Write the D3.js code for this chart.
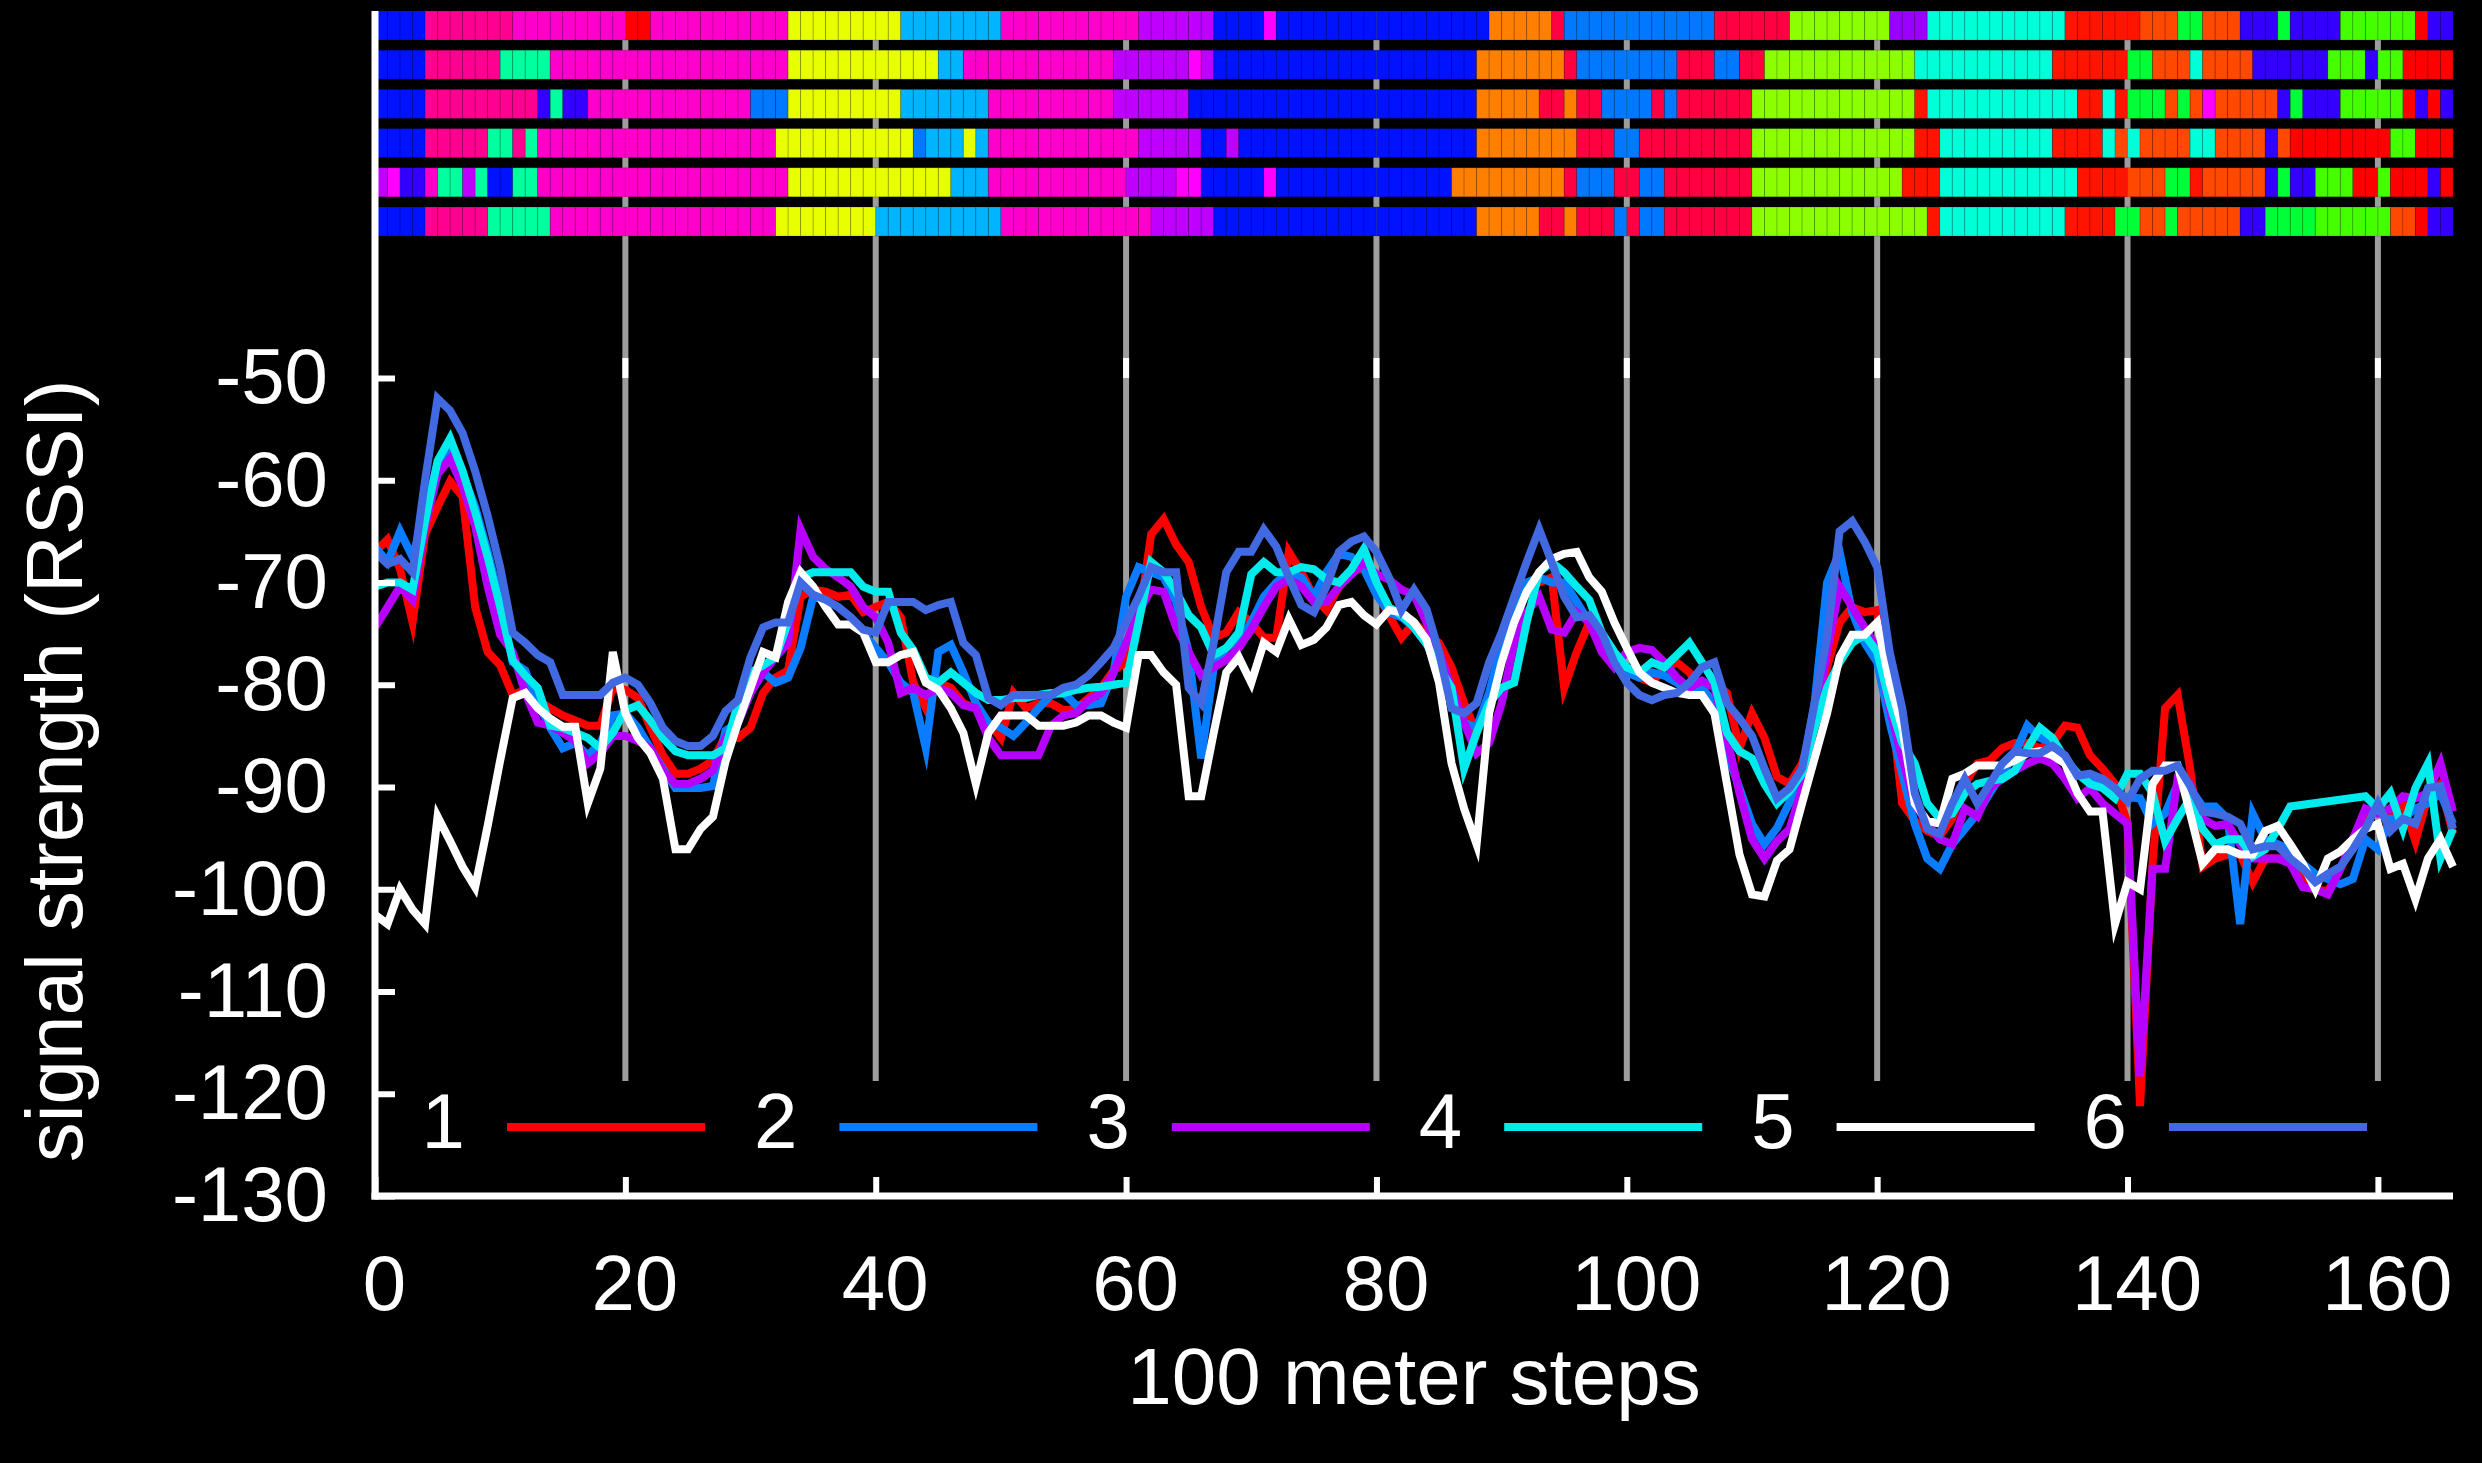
<!DOCTYPE html>
<html>
<head>
<meta charset="utf-8">
<script src="https://cdn.jsdelivr.net/npm/d3@7"></script>
<style>
  html, body { margin: 0; padding: 0; background: #000; }
  svg { display: block; }
</style>
</head>
<body>
<svg id="chart" width="2482" height="1463"></svg>
<script>

// signal strength per 100 m step (0..166), one array per receiver
var series1 = [-67, -65.8, -68.7, -73.9, -65.3, -62.6, -60.1, -61.6, -72.4, -76.8,
  -78.1, -81, -80.5, -81.5, -82.3, -83, -83.5, -84, -84, -80.3,
  -80.5, -81.3, -84.2, -86.9, -88.7, -88.7, -88.2, -87.4, -85, -85.2,
  -84.2, -80.8, -79.3, -78.6, -71.4, -70.7, -70.9, -71.4, -71.2, -72.9,
  -72.4, -71.9, -73.4, -79.8, -82.3, -79.8, -80.3, -81.8, -82.3, -83.7,
  -85.2, -80.8, -82.3, -81.8, -81.8, -82.5, -82.4, -81.3, -80.3, -78.6,
  -77.8, -73.9, -65.3, -63.8, -66.3, -68, -72.4, -75.4, -74.9, -72.9,
  -73.9, -75.4, -75.4, -67, -69, -71.4, -72.7, -70.4, -69, -68.5,
  -70.9, -73.2, -75.4, -73.9, -75, -75.9, -78.3, -81.8, -84.7, -81.8,
  -75.9, -72.9, -70.4, -70, -69.5, -80.3, -76.8, -73.9, -76.4, -77.3,
  -78.3, -79.3, -79.8, -78.3, -77.8, -78.8, -80.3, -79.8, -80.8, -86.2,
  -82.8, -85.2, -89, -89.7, -87.7, -83.7, -78.3, -73.9, -72.4, -72.9,
  -72.7, -80.8, -91.6, -93.3, -94.3, -94.8, -93.1, -89.7, -87.7, -87.4,
  -86.2, -85.7, -85.7, -86.2, -85.7, -84, -84.2, -86.9, -88.2, -89.7,
  -93.6, -121.2, -97.5, -82.3, -81, -88.2, -97.8, -97, -96.6, -96.6,
  -99.3, -97, -97, -97, -98.5, -100, -100.2, -98, -95.6, -92.6,
  -91.6, -92.6, -91.6, -95.3, -90.9, -89.7, -94.6];

var series2 = [-66.5, -68, -65, -67.5, -63.1, -58.4, -57.1, -59.4, -62.6, -67,
  -71.9, -77.8, -78.6, -81.8, -84.2, -86.2, -85.7, -86.9, -85.7, -83,
  -82.8, -84.2, -86.2, -88.2, -90.1, -90.1, -90.1, -89.9, -84.5, -83.7,
  -80.8, -78.8, -79.8, -79.3, -76.4, -71.4, -71.7, -72.4, -73.4, -74.9,
  -76.4, -77.8, -79.8, -80.8, -86.2, -76.8, -76.1, -78.8, -81.8, -83.7,
  -84.2, -85, -83.7, -82.3, -81, -80.8, -82, -82, -81.8, -78.8,
  -71.4, -68.5, -69, -69.5, -71.9, -76.8, -87.2, -78.3, -76.4, -75.6,
  -73.9, -71.4, -70, -69, -69.5, -71.4, -69, -67.2, -67.5, -68.7,
  -71.2, -72.9, -73.4, -74.4, -76, -77.3, -80.8, -83.7, -84.2, -80.8,
  -75.9, -72.4, -70, -69.5, -70, -70, -71.9, -73.9, -76.4, -77.8,
  -78.8, -79.3, -78.8, -79.1, -79.8, -80.8, -80.3, -81.8, -86.7, -90.1,
  -93.6, -95.6, -94, -91.5, -88.7, -81.8, -70, -67, -72.9, -75.9,
  -77.8, -83.7, -88.7, -93.6, -97, -98, -95.6, -94.1, -92.6, -90.6,
  -88.7, -86.7, -84, -85.2, -85.7, -87.2, -88.7, -89.2, -89.7, -90.6,
  -91, -91.1, -93.6, -92.6, -89.7, -90.1, -91.9, -91.9, -93.1, -103.4,
  -92.6, -95.1, -95.6, -96.1, -97.5, -98.5, -99, -99.5, -99, -95.1,
  -96.1, -93.1, -93.1, -92.1, -91.6, -90.6, -93.6];

var series3 = [-74.4, -72.4, -70.4, -71.7, -64.5, -59.4, -57.9, -60.6, -64.5, -70.4,
  -75.1, -76.8, -80.8, -83.7, -84, -84.7, -85.5, -87.7, -86.7, -85,
  -85, -85.5, -86.2, -88.4, -89.7, -89.7, -89.2, -88.4, -85.2, -83.7,
  -80.8, -78.8, -77.3, -75.9, -64.8, -67.5, -68.7, -69.5, -70.4, -72.4,
  -73.4, -75.9, -80.8, -80.3, -81, -80.3, -80.8, -82, -82.3, -85.2,
  -86.9, -86.9, -86.9, -86.9, -84, -83, -82.8, -81.5, -80.8, -78.8,
  -75.9, -72.9, -70.7, -70.9, -74.4, -76.8, -79.1, -78.3, -77.6, -76.4,
  -74.6, -72.4, -70.4, -69.7, -70.4, -71.9, -71.9, -70.4, -69.2, -68,
  -69.2, -69.7, -70.7, -71.2, -73.9, -76.8, -80.3, -83.7, -86.7, -85.7,
  -81.8, -75.9, -72.9, -71.4, -74.6, -74.9, -72.9, -73.9, -76.8, -78.3,
  -76.8, -76.4, -76.6, -77.8, -79.3, -80.3, -79.6, -80.3, -85.2, -90.6,
  -95.1, -97, -95.3, -94.1, -90.1, -83.7, -76.8, -70.4, -72.4, -74.4,
  -76.4, -82.3, -87.2, -91.6, -93.6, -95.1, -95.6, -92.1, -92.9, -90.1,
  -89.2, -88.4, -87.7, -87.2, -87.7, -89.2, -91.1, -90.1, -91.6, -92.6,
  -93.6, -118.3, -98, -98, -89.2, -89.7, -93.1, -93.8, -93.6, -95.6,
  -97, -97, -97, -97.5, -99.8, -100, -100.5, -98, -95.1, -92.1,
  -92.6, -92.1, -90.9, -91.1, -90.6, -87.7, -92.4];

var series4 = [-70.4, -70, -70, -70.7, -64, -58.1, -55.9, -59.1, -63.1, -67.5,
  -72.4, -77.6, -79.1, -80.3, -84, -84.2, -84.7, -85.2, -86.2, -84.7,
  -82.5, -82, -83.5, -85.2, -86.5, -86.9, -86.9, -86.9, -86.2, -81.8,
  -78.8, -78.1, -77.3, -73.9, -69.5, -69, -69, -69, -69, -70.4,
  -70.9, -70.9, -74.9, -76.6, -79.3, -79.8, -78.8, -79.8, -80.8, -81.5,
  -81.5, -81.3, -81.3, -81, -80.8, -80.8, -80.5, -80.3, -80.2, -80,
  -79.8, -73.9, -68, -69, -70.9, -73.2, -74.4, -77.1, -76.4, -74.9,
  -69.2, -68, -69, -69, -68.5, -68.7, -69.7, -70, -68.7, -66.7,
  -70, -72.4, -73.2, -74.4, -76, -78.3, -80.3, -88.2, -84.7, -81.8,
  -80.3, -79.8, -73.9, -69, -68, -69, -70.4, -71.7, -74.9, -76.8,
  -78.3, -78.8, -77.8, -78.3, -77.1, -75.9, -77.8, -79.8, -84.7, -86.5,
  -87.2, -89.7, -91.6, -90.4, -88.7, -84.2, -80.3, -77.8, -75.9, -75.1,
  -76.8, -81.8, -85.7, -87.7, -91.6, -93.1, -92.6, -90.6, -89.7, -89.4,
  -89.2, -88.4, -86.2, -84.2, -85.2, -87.2, -88.7, -89.7, -90.1, -91.1,
  -88.7, -88.7, -90.6, -95.3, -93.1, -91.1, -94.1, -95.6, -95.1, -95.1,
  -96.8, -96.1, -94.1, -91.9, null, null, null, null, null, -90.9,
  -92.1, -90.6, -94.1, -90.1, -87.7, -97, -94.1];

var series5 = [-102.5, -103.4, -100, -102, -103.4, -92.9, -95.3, -97.8, -99.8, -93.8,
  -87.4, -81.3, -80.8, -82.3, -83.3, -84.1, -84.1, -91.6, -88.2, -76.8,
  -82.8, -85.2, -86.7, -89.2, -96.1, -96.1, -94.1, -92.9, -87.5, -83.7,
  -80.3, -76.8, -77.3, -71.9, -69, -70.4, -72.4, -74.1, -74.1, -74.9,
  -77.8, -77.8, -77.1, -76.8, -79.8, -80.5, -82.3, -84.7, -89.7, -84.7,
  -83, -83, -83, -84, -84, -84, -83.7, -83, -83, -83.7,
  -84.2, -77.1, -77.1, -78.8, -80, -90.9, -90.9, -84.7, -78.8, -77.3,
  -79.8, -75.9, -76.8, -73.6, -76.1, -75.6, -74.4, -72.2, -71.9, -73.2,
  -74.1, -72.7, -72.9, -73.9, -75.6, -79.8, -87.7, -92.1, -95.6, -82.8,
  -77.8, -73.9, -70.9, -69, -67.7, -67.2, -67, -69.5, -70.9, -73.9,
  -76.4, -78.8, -79.8, -80.3, -80.8, -81, -81, -82.8, -89.7, -96.6,
  -100.5, -100.7, -97.2, -96.1, -91.6, -87.2, -82.8, -77.3, -75.1, -75.1,
  -73.9, -79.8, -84.2, -91.6, -93.3, -93.6, -89.2, -88.7, -87.9, -87.9,
  -87.9, -87.4, -86.7, -86.5, -86.9, -87.7, -90.6, -92.4, -92.4, -103.4,
  -99.3, -100, -89.7, -87.9, -87.9, -92.6, -97.5, -96.1, -96.1, -96.6,
  -96.6, -94.3, -93.8, -95.6, -97.5, -100, -97, -96.3, -95.1, -94.1,
  -93.6, -98, -97.5, -101, -97, -95.1, -97.8];

var series6 = [-67, -68.2, -67.7, -69, -60, -52, -53.2, -55.4, -59.1, -63.5,
  -68.5, -74.9, -75.9, -77.1, -77.8, -81, -81, -81, -81, -79.8,
  -79.3, -80, -81.8, -84.2, -85.5, -86, -86, -85, -82.6, -81.5,
  -77.3, -74.4, -73.9, -73.9, -70, -71.2, -71.7, -72.4, -73.4, -74.6,
  -74.9, -71.9, -71.9, -71.9, -72.7, -72.2, -71.9, -75.9, -77.1, -81.3,
  -82, -81, -81, -81, -81, -80.3, -80, -79.1, -77.8, -76.4,
  -73.9, -71.4, -68.5, -69, -69, -80.3, -81.8, -75.9, -69, -67,
  -67, -64.8, -66.5, -69.5, -72.2, -72.9, -70.4, -67, -66, -65.5,
  -67, -69.5, -72.7, -70.7, -72.6, -76.8, -82.3, -82.8, -81.8, -77.8,
  -74.9, -71.4, -68, -64.8, -68, -71.4, -73.4, -73.2, -74.9, -77.8,
  -79.8, -81, -81.5, -81, -80.8, -79.8, -78.3, -77.8, -81.8, -83.3,
  -85, -88.2, -91.1, -90.1, -88.2, -81.8, -75.4, -65, -64, -66,
  -68.5, -76.8, -82.3, -90.6, -94.1, -94.6, -91.6, -89.2, -91.6, -89.7,
  -87.7, -86.5, -86.7, -86.7, -86, -86.9, -88.9, -88.7, -89.2, -90.1,
  -91.4, -89.2, -88.4, -88.4, -87.9, -89.9, -92.4, -92.6, -92.9, -93.6,
  -96.1, -95.8, -95.8, -97, -98, -99.3, -98.5, -97.8, -96.1, -94.1,
  -91.6, -94.3, -93.1, -93.6, -90.1, -89.9, -94.1];

var seriesNames = ["1", "2", "3", "4", "5", "6"];
var seriesColors = ["#ff0000", "#0a7cff", "#b800ff", "#00ebeb", "#ffffff", "#4169e1"];

// serving cell per step, run-length coded: [cell id, number of steps]
var cellRow1 = [["a",4],["b",7],["c",9],["d",2],["c",11],["f",9],["g",8],["c",11],["i",6],["a",4],["t",1],["a",17],["k",5],["l",1],["h",12],["l",6],["m",8],["n",3],["o",11],["p",6],["q",3],["r",2],["q",3],["j",3],["r",1],["j",4],["s",6],["d",1],["j",2]];
var cellRow2 = [["a",4],["b",6],["e",4],["c",19],["f",12],["g",2],["c",12],["i",6],["t",1],["i",1],["a",21],["k",7],["l",1],["h",8],["l",3],["h",2],["l",2],["m",12],["o",11],["p",6],["r",2],["q",3],["o",1],["q",4],["j",6],["s",3],["j",1],["s",2],["d",4]];
var cellRow3 = [["a",4],["b",9],["j",1],["e",1],["j",2],["c",13],["h",3],["f",9],["g",7],["c",10],["i",6],["a",23],["k",5],["l",2],["k",1],["l",2],["h",4],["l",1],["h",1],["l",6],["m",13],["p",1],["o",12],["p",2],["o",1],["p",1],["r",3],["q",1],["r",1],["q",1],["t",1],["q",5],["j",1],["r",1],["j",3],["s",5],["d",1],["j",1],["d",1],["j",1]];
var cellRow4 = [["a",4],["b",5],["e",2],["b",1],["e",1],["c",19],["f",11],["h",1],["g",3],["f",1],["g",1],["c",12],["i",5],["a",2],["i",1],["a",19],["k",8],["l",3],["h",2],["l",9],["m",13],["p",2],["o",9],["p",4],["o",1],["q",1],["o",1],["q",4],["o",2],["q",4],["j",1],["q",1],["d",8],["s",2],["d",3]];
var cellRow5 = [["i",1],["t",1],["j",2],["c",1],["e",2],["i",1],["e",1],["a",2],["e",2],["c",20],["f",13],["g",3],["c",11],["i",4],["t",2],["a",5],["t",1],["a",14],["k",9],["l",1],["h",3],["l",2],["h",2],["l",7],["m",12],["p",3],["o",11],["p",4],["q",3],["r",2],["p",1],["q",5],["j",1],["r",1],["j",2],["s",3],["d",2],["s",1],["d",3],["j",1],["d",1]];
var cellRow6 = [["a",4],["b",5],["e",5],["c",18],["f",8],["g",10],["c",12],["i",5],["a",21],["k",5],["l",2],["k",1],["l",3],["h",1],["l",1],["h",2],["l",7],["m",14],["p",1],["o",10],["p",4],["r",2],["q",2],["r",1],["q",5],["j",2],["r",4],["s",6],["q",2],["d",1],["j",2]];

var cellColors = {
  a: "#0012ff", b: "#ff0090", c: "#ff00cc", d: "#ff0000", e: "#00ff9f",
  f: "#e8ff00", g: "#00b4ff", h: "#0078ff", i: "#c000ff", j: "#3300ff",
  k: "#ff7f00", l: "#ff0040", m: "#8cff00", n: "#9900ff", o: "#00ffd8",
  p: "#ff1400", q: "#ff4800", r: "#00ff36", s: "#44ff00", t: "#ff00ff"
};

var xTicks = [0, 20, 40, 60, 80, 100, 120, 140, 160];
var yTicks = [-130, -120, -110, -100, -90, -80, -70, -60, -50];


var font = "'Liberation Sans', Arial, Helvetica, sans-serif";
var svg = d3.select("#chart");

var xScale = d3.scaleLinear().domain([0, 166]).range([375, 2453]);
var yScale = d3.scaleLinear().domain([-130, -50]).range([1196, 378]);
var cellRows = [cellRow1, cellRow2, cellRow3, cellRow4, cellRow5, cellRow6];
var rowScale = d3.scaleBand().domain(d3.range(cellRows.length)).range([11, 236]).paddingInner(0.26);

var plotTop = rowScale.range()[0];
var gridBottom = 1081;

svg.append("rect").attr("width", 2482).attr("height", 1463).attr("fill", "#000");

// vertical grid
svg.append("g").selectAll("line")
  .data(xTicks.slice(1))
  .enter()
  .append("line")
  .attr("x1", function (d) { return xScale(d) })
  .attr("x2", function (d) { return xScale(d) })
  .attr("y1", plotTop)
  .attr("y2", gridBottom)
  .attr("stroke", "#9d9d9d")
  .attr("stroke-width", 6);

svg.append("g").selectAll("rect")
  .data(xTicks.slice(1))
  .enter()
  .append("rect")
  .attr("x", function (d) { return xScale(d) - 3 })
  .attr("y", yScale(-50) - 20)
  .attr("width", 6)
  .attr("height", 20)
  .attr("fill", "#fff");

// cell strips at the top
cellRows.forEach(function (runs, r) {
  var cells = [];
  var s = 0;
  runs.forEach(function (run) {
    for (var k = 0; k < run[1]; k++) cells.push({ step: s++, id: run[0] });
  });
  svg.append("g").attr("class", "cells").selectAll("rect")
    .data(cells)
    .enter()
    .append("rect")
    .attr("x", function (d) { return xScale(d.step) })
    .attr("width", function (d) { return xScale(d.step + 1) - xScale(d.step) })
    .attr("y", rowScale(r))
    .attr("height", rowScale.bandwidth())
    .attr("fill", function (d) { return cellColors[d.id] })
    .attr("stroke", "rgba(0,0,0,0.16)")
    .attr("stroke-width", 1);
});

// signal lines
var allSeries = [series1, series2, series3, series4, series5, series6];
var line = d3.line()
  .x(function (d) { return xScale(d.step) })
  .y(function (d) { return yScale(d.v) });

svg.append("g").selectAll("path")
  .data(allSeries.map(function (vals, i) {
    return {
      color: seriesColors[i],
      points: vals.map(function (v, k) { return { step: k, v: v } })
                  .filter(function (p) { return p.v !== null })
    };
  }))
  .enter()
  .append("path")
  .attr("d", function (d) { return line(d.points) })
  .attr("fill", "none")
  .attr("stroke", function (d) { return d.color })
  .attr("stroke-width", 8)
  .attr("stroke-linejoin", "miter")
  .attr("stroke-miterlimit", 6);

// axes
var yAxis = d3.axisLeft(yScale)
  .tickValues(yTicks)
  .tickSizeInner(-20)
  .tickSizeOuter(0)
  .tickPadding(47)
  .tickFormat(function (d) { return String(d) });

var gy = svg.append("g")
  .attr("transform", "translate(" + xScale(0) + ",0)")
  .call(yAxis);
gy.select(".domain").remove();
gy.attr("font-size", 78).attr("font-family", font);
gy.selectAll(".tick line").attr("stroke", "#fff").attr("stroke-width", 6);
gy.selectAll(".tick text").attr("fill", "#fff");

var xAxis = d3.axisBottom(xScale)
  .tickValues(xTicks)
  .tickSizeInner(-19)
  .tickSizeOuter(0)
  .tickPadding(59);

var gx = svg.append("g")
  .attr("transform", "translate(0," + yScale(-130) + ")")
  .call(xAxis);
gx.select(".domain").remove();
gx.attr("font-size", 78).attr("font-family", font);
gx.selectAll(".tick line").attr("stroke", "#fff").attr("stroke-width", 6);
gx.selectAll(".tick text").attr("fill", "#fff").attr("dx", 9);

svg.append("line")
  .attr("x1", xScale(0)).attr("x2", xScale(0))
  .attr("y1", plotTop).attr("y2", yScale(-130) + 3.5)
  .attr("stroke", "#fff").attr("stroke-width", 7);
svg.append("line")
  .attr("x1", xScale(0) - 3.5).attr("x2", xScale(166))
  .attr("y1", yScale(-130)).attr("y2", yScale(-130))
  .attr("stroke", "#fff").attr("stroke-width", 7);

// legend
var legend = svg.append("g").attr("font-family", font).attr("font-size", 78);
var entries = legend.selectAll("g")
  .data(seriesNames)
  .enter()
  .append("g")
  .attr("transform", function (d, i) { return "translate(" + (507 + i * 332.4) + ",1127)" });
entries.append("text")
  .attr("x", -42)
  .attr("y", 21)
  .attr("text-anchor", "end")
  .attr("fill", "#fff")
  .text(function (d) { return d });
entries.append("line")
  .attr("x1", 0).attr("x2", 198)
  .attr("y1", 0).attr("y2", 0)
  .attr("stroke", function (d, i) { return seriesColors[i] })
  .attr("stroke-width", 8);

// axis titles
svg.append("text")
  .attr("transform", "translate(82," + 771 + ") rotate(-90)")
  .attr("text-anchor", "middle")
  .attr("font-family", font)
  .attr("font-size", 80)
  .attr("fill", "#fff")
  .text("signal strength (RSSI)");

svg.append("text")
  .attr("x", (xScale(0) + xScale(166)) / 2)
  .attr("y", 1404)
  .attr("text-anchor", "middle")
  .attr("font-family", font)
  .attr("font-size", 80)
  .attr("fill", "#fff")
  .text("100 meter steps");

</script>
</body>
</html>
